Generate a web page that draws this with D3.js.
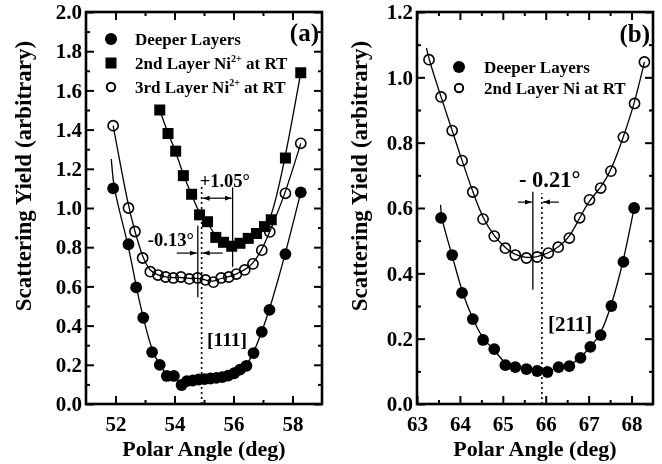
<!DOCTYPE html>
<html>
<head>
<meta charset="utf-8">
<script src="https://cdn.jsdelivr.net/npm/d3@7"></script>
<style>
  body { margin: 0; background: #fff; }
  svg { will-change: transform; }
  text { font-family: "Liberation Serif", "Times New Roman", serif; font-weight: bold; fill: #000; }
</style>
</head>
<body>
<svg id="chart" width="662" height="464"></svg>
<script>

// Values.
// Panel (a) : scans around the [111] direction
var angleDeepA = [51.92, 52.44, 52.70, 52.94, 53.24, 53.50, 53.74, 53.98, 54.24, 54.42, 54.62, 54.82, 55.02, 55.22, 55.42, 55.62, 55.82, 56.02, 56.22, 56.44, 56.68, 56.96, 57.22, 57.76, 58.28];
var yieldDeepA = [1.10, 0.815, 0.595, 0.44, 0.265, 0.20, 0.143, 0.143, 0.097, 0.117, 0.12, 0.125, 0.127, 0.13, 0.133, 0.137, 0.145, 0.157, 0.175, 0.195, 0.26, 0.368, 0.48, 0.765, 1.08];

var angle2ndA = [53.50, 53.78, 54.04, 54.30, 54.58, 54.85, 55.12, 55.40, 55.66, 55.94, 56.22, 56.50, 56.78, 57.05, 57.28, 57.76, 58.28];
var yield2ndA = [1.50, 1.38, 1.29, 1.165, 1.07, 0.965, 0.93, 0.85, 0.825, 0.805, 0.82, 0.845, 0.87, 0.905, 0.94, 1.255, 1.69];

var angle3rdA = [51.92, 52.44, 52.66, 52.92, 53.18, 53.44, 53.70, 53.96, 54.22, 54.50, 54.78, 55.05, 55.32, 55.58, 55.84, 56.10, 56.38, 56.66, 56.96, 57.23, 57.76, 58.28];
var yield3rdA = [1.42, 1.00, 0.88, 0.745, 0.675, 0.658, 0.648, 0.643, 0.648, 0.638, 0.643, 0.633, 0.622, 0.643, 0.648, 0.663, 0.684, 0.715, 0.785, 0.878, 1.075, 1.33];

// Panel (b) : scans around the [211] direction
var angleDeepB = [63.56, 63.82, 64.05, 64.30, 64.54, 64.80, 65.06, 65.29, 65.55, 65.80, 66.04, 66.30, 66.55, 66.81, 67.04, 67.28, 67.53, 67.81, 68.06];
var yieldDeepB = [0.57, 0.456, 0.34, 0.26, 0.196, 0.168, 0.119, 0.113, 0.107, 0.101, 0.098, 0.113, 0.116, 0.141, 0.175, 0.211, 0.30, 0.435, 0.60];

var angle2ndB = [63.28, 63.56, 63.82, 64.05, 64.30, 64.54, 64.80, 65.06, 65.29, 65.55, 65.80, 66.06, 66.29, 66.55, 66.79, 67.02, 67.28, 67.52, 67.81, 68.07, 68.30];
var yield2ndB = [1.054, 0.94, 0.837, 0.745, 0.649, 0.566, 0.514, 0.477, 0.456, 0.447, 0.45, 0.462, 0.48, 0.508, 0.57, 0.625, 0.661, 0.713, 0.817, 0.92, 1.047];

// Some fit lines start a bit above their first point
var fitLeadDeepA = [51.86, 1.25];
var fitLeadDeepB = [63.55, 0.61];
var fitLead2ndB  = [63.22, 1.09];

// Tick values
var xMajorA = [52, 54, 56, 58];
var xMinorA = [53, 55, 57];
var yMajorA = [0.0, 0.2, 0.4, 0.6, 0.8, 1.0, 1.2, 1.4, 1.6, 1.8, 2.0];
var yMinorA = [0.1, 0.3, 0.5, 0.7, 0.9, 1.1, 1.3, 1.5, 1.7, 1.9];
var xMajorB = [63, 64, 65, 66, 67, 68];
var xMinorB = [63.5, 64.5, 65.5, 66.5, 67.5];
var yMajorB = [0.0, 0.2, 0.4, 0.6, 0.8, 1.0, 1.2];
var yMinorB = [0.1, 0.3, 0.5, 0.7, 0.9, 1.1];

// Crystal directions (dotted) and the measured shifts (deg)
var dirA = 54.92;
var dirB = 65.91;
var shiftA = [-0.13, 1.05];
var shiftB = [-0.21];


var svg = d3.select("#chart");

var defs = svg.append("defs");
defs.append("marker")
    .attr("id", "head")
    .attr("markerUnits", "userSpaceOnUse")
    .attr("markerWidth", 8).attr("markerHeight", 6)
    .attr("refX", 7).attr("refY", 3)
    .attr("orient", "auto-start-reverse")
  .append("path")
    .attr("d", "M0,0.5 L7,3 L0,5.5 Z")
    .attr("fill", "#000");

function zip(xs, ys) {
  return xs.map(function(v, i) { return [v, ys[i]]; });
}

// makePanel : frame, inward ticks on all four sides, tick labels and titles
function makePanel(p) {
  var x = d3.scaleLinear().domain(p.xDomain).range([p.left, p.right]);
  var y = d3.scaleLinear().domain(p.yDomain).range([p.bottom, p.top]);
  var g = svg.append("g");

  function axis(gen, at, values, size, labelled) {
    var a = gen.tickValues(values).tickSize(-size).tickPadding(0);
    if (!labelled) a.tickFormat("");
    var ga = g.append("g").attr("transform", at).call(a);
    ga.select(".domain").remove();
    ga.selectAll("line").attr("stroke", "#000").attr("stroke-width", 2);
    ga.selectAll("text").attr("fill", "#000").style("font-size", "21px")
      .style("font-family", "'Liberation Serif', serif").style("font-weight", "bold");
    return ga;
  }

  // bottom
  var bx = axis(d3.axisBottom(x).tickFormat(d3.format("d")), "translate(0," + p.bottom + ")", p.xMajor, 8, true);
  bx.selectAll("text").attr("y", 0).attr("dy", "1.3em");
  axis(d3.axisBottom(x), "translate(0," + p.bottom + ")", p.xMinor, 4, false);
  // top
  axis(d3.axisTop(x), "translate(0," + p.top + ")", p.xMajor, 8, false);
  axis(d3.axisTop(x), "translate(0," + p.top + ")", p.xMinor, 4, false);
  // left
  var ly = axis(d3.axisLeft(y).tickFormat(d3.format(".1f")), "translate(" + p.left + ",0)", p.yMajor, 8, true);
  ly.selectAll("text").attr("x", -4);
  axis(d3.axisLeft(y), "translate(" + p.left + ",0)", p.yMinor, 4, false);
  // right
  axis(d3.axisRight(y), "translate(" + p.right + ",0)", p.yMajor, 8, false);
  axis(d3.axisRight(y), "translate(" + p.right + ",0)", p.yMinor, 4, false);

  g.append("rect")
    .attr("x", p.left).attr("y", p.top)
    .attr("width", p.right - p.left).attr("height", p.bottom - p.top)
    .attr("fill", "none").attr("stroke", "#000").attr("stroke-width", 2.6);

  g.append("text")
    .attr("x", (p.left + p.right) / 2).attr("y", 456)
    .attr("text-anchor", "middle")
    .style("font-size", "22px")
    .text("Polar Angle (deg)");

  g.append("text")
    .attr("transform", "translate(" + p.yTitleX + "," + p.yTitleY + ") rotate(-90)")
    .attr("text-anchor", "middle")
    .style("font-size", "23px")
    .text("Scattering Yield (arbitrary)");

  return { x: x, y: y, g: g };
}

function fitLine(pan, pts) {
  var line = d3.line()
    .x(function(d) { return pan.x(d[0]); })
    .y(function(d) { return pan.y(d[1]); })
    .curve(d3.curveBasis);
  pan.g.append("path")
    .attr("d", line(pts))
    .attr("fill", "none").attr("stroke", "#000").attr("stroke-width", 1.3);
}

function filledDots(pan, pts) {
  pan.g.append("g").selectAll("circle").data(pts).join("circle")
    .attr("cx", function(d) { return pan.x(d[0]); })
    .attr("cy", function(d) { return pan.y(d[1]); })
    .attr("r", 5.9).attr("fill", "#000");
}

function openDots(pan, pts) {
  pan.g.append("g").selectAll("circle").data(pts).join("circle")
    .attr("cx", function(d) { return pan.x(d[0]); })
    .attr("cy", function(d) { return pan.y(d[1]); })
    .attr("r", 5.1).attr("fill", "none").attr("stroke", "#000").attr("stroke-width", 1.6);
}

function squares(pan, pts) {
  pan.g.append("g").selectAll("rect").data(pts).join("rect")
    .attr("x", function(d) { return pan.x(d[0]) - 5.5; })
    .attr("y", function(d) { return pan.y(d[1]) - 5.5; })
    .attr("width", 11).attr("height", 11).attr("fill", "#000");
}

function vline(pan, at, y0, y1, dotted) {
  pan.g.append("line")
    .attr("x1", pan.x(at)).attr("x2", pan.x(at))
    .attr("y1", pan.y(y0)).attr("y2", pan.y(y1))
    .attr("stroke", "#000")
    .attr("stroke-width", dotted ? 1.6 : 1.3)
    .attr("stroke-dasharray", dotted ? "2,3" : null);
}

function arrow(pan, xa, xb, yv, both) {
  pan.g.append("line")
    .attr("x1", xa).attr("x2", xb)
    .attr("y1", pan.y(yv)).attr("y2", pan.y(yv))
    .attr("stroke", "#000").attr("stroke-width", 1.2)
    .attr("marker-end", "url(#head)")
    .attr("marker-start", both ? "url(#head)" : null);
}

function label(pan, x, y, txt, size, anchor) {
  return pan.g.append("text")
    .attr("x", x).attr("y", y)
    .attr("text-anchor", anchor || "start")
    .style("font-size", size + "px")
    .text(txt);
}


// ---------------- panel (a) ----------------
var a = makePanel({
  left: 86, right: 322, top: 12, bottom: 404,
  xDomain: [51, 59], yDomain: [0, 2],
  xMajor: xMajorA, xMinor: xMinorA, yMajor: yMajorA, yMinor: yMinorA,
  yTitleX: 31, yTitleY: 176
});

fitLine(a, [fitLeadDeepA].concat(zip(angleDeepA, yieldDeepA)));
fitLine(a, zip(angle2ndA, yield2ndA));
fitLine(a, zip(angle3rdA, yield3rdA));

// shift markers
var solidA1 = dirA + shiftA[0];
var solidA2 = dirA + shiftA[1];
vline(a, dirA, 0, 1.11, true);
vline(a, solidA1, 0.545, 0.91, false);
vline(a, solidA2, 0.70, 1.105, false);
arrow(a, a.x(solidA1) - 21, a.x(solidA1) - 1, 0.77, false);
arrow(a, a.x(dirA) + 21, a.x(dirA) + 1, 0.77, false);
arrow(a, a.x(dirA) + 1, a.x(solidA2) - 1, 1.05, true);

filledDots(a, zip(angleDeepA, yieldDeepA));
squares(a, zip(angle2ndA, yield2ndA));
openDots(a, zip(angle3rdA, yield3rdA));

label(a, a.x(solidA1) - 4, 246, "-0.13°", 18.5, "end");
label(a, a.x(dirA) - 2, 187, "+1.05°", 18.5);
label(a, 207, 346, "[111]", 19.5);
label(a, 319, 41, "(a)", 25, "end");

// legend (a)
var legA = a.g.append("g");
legA.append("circle").attr("cx", 111).attr("cy", 39).attr("r", 6).attr("fill", "#000");
legA.append("rect").attr("x", 105.5).attr("y", 57.5).attr("width", 11).attr("height", 11).attr("fill", "#000");
legA.append("circle").attr("cx", 111).attr("cy", 87).attr("r", 4.2).attr("fill", "none")
    .attr("stroke", "#000").attr("stroke-width", 2);
label(a, 135, 45, "Deeper Layers", 17);
var t2 = label(a, 135, 69, "2nd Layer Ni", 17);
t2.append("tspan").attr("dy", -7).style("font-size", "10px").text("2+");
t2.append("tspan").attr("dy", 7).text(" at RT");
var t3 = label(a, 135, 93, "3rd Layer Ni", 17);
t3.append("tspan").attr("dy", -7).style("font-size", "10px").text("2+");
t3.append("tspan").attr("dy", 7).text(" at RT");


// ---------------- panel (b) ----------------
var b = makePanel({
  left: 417, right: 653, top: 12, bottom: 404,
  xDomain: [63, 68.5], yDomain: [0, 1.2],
  xMajor: xMajorB, xMinor: xMinorB, yMajor: yMajorB, yMinor: yMinorB,
  yTitleX: 367, yTitleY: 176
});

fitLine(b, [fitLeadDeepB].concat(zip(angleDeepB, yieldDeepB)));
fitLine(b, [fitLead2ndB].concat(zip(angle2ndB, yield2ndB)));

var solidB = dirB + shiftB[0];
vline(b, dirB, 0, 0.645, true);
vline(b, solidB, 0.35, 0.65, false);
arrow(b, b.x(solidB) - 15, b.x(solidB) - 1, 0.618, false);
arrow(b, b.x(dirB) + 17, b.x(dirB) + 1, 0.618, false);

filledDots(b, zip(angleDeepB, yieldDeepB));
openDots(b, zip(angle2ndB, yield2ndB));

label(b, 519, 187, "- 0.21°", 22.5);
label(b, 548, 331, "[211]", 21);
label(b, 650, 42, "(b)", 25, "end");

var legB = b.g.append("g");
legB.append("circle").attr("cx", 459).attr("cy", 67).attr("r", 6).attr("fill", "#000");
legB.append("circle").attr("cx", 459).attr("cy", 88).attr("r", 4.2).attr("fill", "none")
    .attr("stroke", "#000").attr("stroke-width", 2);
label(b, 484, 73, "Deeper Layers", 17);
label(b, 484, 94, "2nd Layer Ni at RT", 17);

</script>
</body>
</html>
